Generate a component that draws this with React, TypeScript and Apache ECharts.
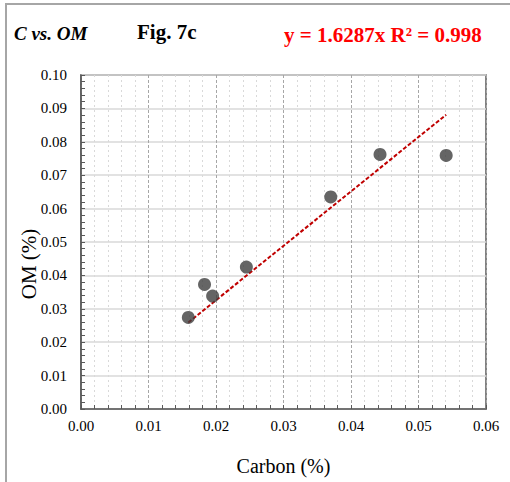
import React, { useEffect, useRef } from "react";
import * as echarts from "echarts";

const carbon = [0.0159, 0.0183, 0.0195, 0.0245, 0.037, 0.0443, 0.0541];
const om = [0.0274, 0.0373, 0.0338, 0.0425, 0.0635, 0.0762, 0.0759];
const slope = 1.6287;
const xTicks = [0, 0.01, 0.02, 0.03, 0.04, 0.05, 0.06];
const yTicks = [0, 0.01, 0.02, 0.03, 0.04, 0.05, 0.06, 0.07, 0.08, 0.09, 0.1];

export default function App() {
  const ref = useRef<HTMLDivElement>(null);
  useEffect(() => {
    if (!ref.current) return;
    const chart = echarts.init(ref.current, null, { renderer: "svg" });
    const points = carbon.map((c, i) => [c, om[i]]);
    const xMin = Math.min(...carbon);
    const xMax = Math.max(...carbon);
    const trend = [
      [xMin, slope * xMin],
      [xMax, slope * xMax],
    ];
    const fam = "Liberation Serif";
    const font = "Liberation Serif, serif";
    chart.setOption({
      animation: false,
      textStyle: { fontFamily: fam },
      graphic: [
        {
          type: "rect",
          shape: { x: 6, y: 4, width: 530, height: 520 },
          style: { fill: "none", stroke: "#a6a6a6", lineWidth: 2 },
          silent: true,
        },
        {
          type: "text",
          x: 14,
          y: 33,
          style: {
            text: "C vs. OM",
            font: `italic bold 19px ${font}`,
            fill: "#000",
            textVerticalAlign: "middle",
          },
        },
        {
          type: "text",
          x: 137,
          y: 32,
          style: {
            text: "Fig. 7c",
            font: `bold 21px ${font}`,
            fill: "#000",
            textVerticalAlign: "middle",
          },
        },
        {
          type: "text",
          x: 284,
          y: 35,
          style: {
            text: "y = 1.6287x R² = 0.998",
            font: `bold 21px ${font}`,
            fill: "#ff0000",
            textVerticalAlign: "middle",
          },
        },
        {
          type: "text",
          x: 29,
          y: 264,
          rotation: Math.PI / 2,
          style: {
            text: "OM (%)",
            font: `21px ${font}`,
            fill: "#000",
            textAlign: "center",
            textVerticalAlign: "middle",
          },
        },
      ],
      grid: {
        left: 81,
        top: 75,
        width: 405,
        height: 334,
        show: true,
        borderColor: "#595959",
        borderWidth: 1.5,
        backgroundColor: "transparent",
      },
      xAxis: {
        type: "value",
        min: xTicks[0],
        max: xTicks[xTicks.length - 1],
        interval: 0.01,
        name: "Carbon (%)",
        nameLocation: "middle",
        nameGap: 47,
        nameTextStyle: { fontSize: 20, color: "#000", fontFamily: fam },
        axisLine: { show: true, lineStyle: { color: "#595959", width: 1.5 } },
        axisTick: { show: true, inside: true, length: 4, lineStyle: { color: "#595959" } },
        minorTick: { show: true, splitNumber: 5, length: 4, lineStyle: { color: "#595959" } },
        axisLabel: {
          fontSize: 15,
          color: "#000",
          margin: 9,
          fontFamily: fam,
          formatter: (v: number) => v.toFixed(2),
        },
        splitLine: { show: true, lineStyle: { color: "#a6a6a6", type: [3, 2], width: 1 } },
        minorSplitLine: { show: true, lineStyle: { color: "#d9d9d9", type: [2, 3], width: 1 } },
      },
      yAxis: {
        type: "value",
        min: yTicks[0],
        max: yTicks[yTicks.length - 1],
        interval: 0.01,
        axisLine: { show: true, lineStyle: { color: "#595959", width: 1.5 } },
        axisTick: { show: true, inside: true, length: 4, lineStyle: { color: "#595959" } },
        minorTick: { show: true, splitNumber: 5, length: 4, lineStyle: { color: "#595959" } },
        axisLabel: {
          fontSize: 15,
          color: "#000",
          margin: 14,
          fontFamily: fam,
          formatter: (v: number) => v.toFixed(2),
        },
        splitLine: { show: true, lineStyle: { color: "#d9d9d9", width: 1.5 } },
        minorSplitLine: { show: false },
      },
      series: [
        {
          type: "line",
          data: trend,
          showSymbol: false,
          symbol: "none",
          lineStyle: { color: "#c00000", width: 2, type: [4, 2] },
          z: 3,
        },
        {
          type: "scatter",
          data: points,
          symbol: "circle",
          symbolSize: 13,
          itemStyle: { color: "#3f3f3f" },
          z: 4,
        },
      ],
    });
    return () => chart.dispose();
  }, []);
  return (
    <div
      ref={ref}
      style={{ position: "fixed", left: 0, top: 0, width: 510, height: 482, background: "#fff" }}
    />
  );
}
